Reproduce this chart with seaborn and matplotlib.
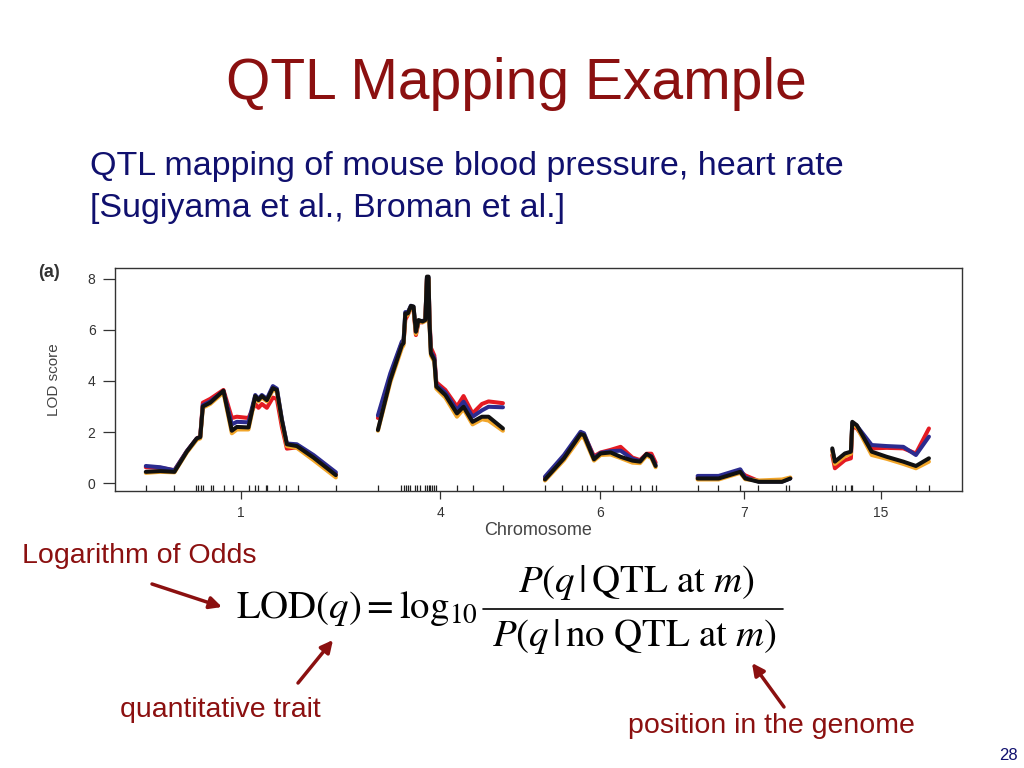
import matplotlib
matplotlib.use('Agg')
import matplotlib.pyplot as plt
from matplotlib.lines import Line2D
import seaborn as sns
import pandas as pd

# chromosomes shown, lengths (cM) and gap between them
chrom_names = ['1', '4', '6', '7', '15']
chrom_lengths = [95, 62.5, 55.3, 46.3, 48.3]
gap = 21

# LOD curves, one list per trait colour, per chromosome
chr1_pos = [0, 7.2, 14.3, 20.5, 25.5, 27.2, 28.5, 32.2, 38.8, 43, 45.5, 51.3, 54.7, 56.3, 58, 60.5, 63.5, 65.5, 68, 70.5, 75.5, 83.8, 95]
chr1_red = [0.62, 0.6, 0.5, 1.25, 1.75, 1.82, 3.15, 3.3, 3.65, 2.55, 2.6, 2.55, 3.1, 2.95, 3.1, 2.95, 3.35, 3.3, 2.2, 1.35, 1.4, 1.0, 0.35]
chr1_blue = [0.67, 0.62, 0.5, 1.25, 1.75, 1.8, 3.05, 3.2, 3.6, 2.3, 2.4, 2.38, 3.45, 3.3, 3.45, 3.3, 3.8, 3.7, 2.5, 1.55, 1.52, 1.1, 0.42]
chr1_orange = [0.4, 0.44, 0.42, 1.2, 1.7, 1.75, 2.95, 3.1, 3.55, 1.95, 2.1, 2.1, 3.35, 3.2, 3.35, 3.2, 3.65, 3.6, 2.4, 1.45, 1.38, 0.9, 0.22]
chr1_black = [0.44, 0.47, 0.44, 1.23, 1.75, 1.8, 3.0, 3.15, 3.62, 2.05, 2.2, 2.18, 3.41, 3.25, 3.41, 3.25, 3.72, 3.65, 2.47, 1.52, 1.45, 1.0, 0.31]

chr4_pos = [0, 6.2, 12, 12.8, 13.7, 15, 16.5, 17.8, 19, 20.3, 22.3, 23.7, 24.5, 25.3, 25.8, 26.5, 28.2, 29.2, 33.7, 39.5, 42.8, 47.3, 52, 55.3, 62.5]
chr4_red = [2.55, 4.2, 5.5, 5.5, 6.4, 6.6, 6.9, 6.8, 5.8, 6.3, 6.3, 6.4, 8.0, 8.0, 6.4, 5.3, 5.0, 3.95, 3.65, 3.0, 3.41, 2.73, 3.1, 3.2, 3.13]
chr4_blue = [2.65, 4.3, 5.55, 5.55, 6.7, 6.7, 6.95, 6.9, 5.9, 6.35, 6.35, 6.4, 8.05, 8.05, 6.3, 5.15, 4.9, 3.85, 3.55, 2.86, 3.19, 2.6, 2.85, 2.99, 2.97]
chr4_orange = [2.05, 3.95, 5.3, 5.4, 6.55, 6.6, 6.9, 6.85, 5.85, 6.35, 6.3, 6.35, 8.0, 8.0, 6.2, 5.0, 4.75, 3.7, 3.35, 2.6, 2.9, 2.3, 2.5, 2.45, 2.05]
chr4_black = [2.08, 4.04, 5.41, 5.48, 6.65, 6.65, 6.94, 6.92, 5.93, 6.39, 6.33, 6.39, 8.09, 8.09, 6.26, 5.08, 4.82, 3.78, 3.45, 2.73, 2.99, 2.4, 2.6, 2.6, 2.14]

chr6_pos = [0, 9.5, 17.8, 19.5, 24.5, 27.8, 32.8, 37.8, 43.7, 47.5, 50.8, 53.2, 55.3]
chr6_red = [0.2, 1.0, 1.85, 1.9, 1.05, 1.2, 1.3, 1.42, 1.0, 0.9, 1.15, 1.15, 0.8]
chr6_blue = [0.25, 1.1, 2.01, 1.95, 0.98, 1.18, 1.25, 1.27, 0.95, 0.86, 1.12, 1.05, 0.7]
chr6_orange = [0.1, 0.9, 1.8, 1.78, 0.88, 1.1, 1.12, 0.98, 0.8, 0.78, 1.08, 0.98, 0.62]
chr6_black = [0.14, 0.97, 1.92, 1.88, 0.93, 1.16, 1.2, 1.03, 0.88, 0.84, 1.14, 1.03, 0.67]

chr7_pos = [0, 10.5, 21.3, 23.8, 30.5, 42.2, 46.3]
chr7_red = [0.22, 0.22, 0.45, 0.3, 0.08, 0.08, 0.2]
chr7_blue = [0.28, 0.28, 0.54, 0.22, 0.06, 0.06, 0.18]
chr7_orange = [0.14, 0.14, 0.4, 0.15, 0.1, 0.14, 0.22]
chr7_black = [0.18, 0.18, 0.44, 0.18, 0.05, 0.05, 0.18]

chr15_pos = [0, 1.3, 6.3, 9.3, 10, 12.2, 19.7, 27.2, 35.5, 41.8, 48.3]
chr15_red = [1.1, 0.58, 0.9, 0.97, 2.21, 2.15, 1.36, 1.38, 1.36, 1.16, 2.14]
chr15_blue = [1.3, 0.8, 1.1, 1.2, 2.35, 2.25, 1.49, 1.45, 1.42, 1.1, 1.82]
chr15_orange = [1.25, 0.75, 1.05, 1.15, 2.3, 2.2, 1.1, 0.95, 0.75, 0.58, 0.84]
chr15_black = [1.36, 0.84, 1.16, 1.23, 2.4, 2.27, 1.23, 1.03, 0.84, 0.67, 0.97]

# genetic markers (cM)
chr1_markers = [0, 14.3, 25, 26.3, 27.7, 28.8, 32.7, 33.8, 39.3, 43.5, 51.8, 54.7, 56, 60.2, 60.8, 66.7, 70, 76.3, 95]
chr4_markers = [0, 11.7, 12.8, 14.2, 15, 15.8, 18.3, 19.5, 20.8, 23.7, 24.5, 25.3, 26.2, 27, 27.8, 29.2, 39.5, 47.3, 62.5]
chr6_markers = [0, 8.3, 18.7, 21.2, 24.8, 34, 42.8, 47.5, 53.3, 55.3]
chr7_markers = [0, 10.3, 21.2, 30.2, 44.2, 45.5]
chr15_markers = [0, 1.7, 6.3, 9.3, 10, 20.2, 41.8, 48.3]

traits = ['red', 'blue', 'orange', 'black']
palette = {'red': '#e41a22', 'blue': '#2b2b8f', 'orange': '#f2a62a', 'black': '#111111'}

curves = {
    '1': (chr1_pos, [chr1_red, chr1_blue, chr1_orange, chr1_black], chr1_markers),
    '4': (chr4_pos, [chr4_red, chr4_blue, chr4_orange, chr4_black], chr4_markers),
    '6': (chr6_pos, [chr6_red, chr6_blue, chr6_orange, chr6_black], chr6_markers),
    '7': (chr7_pos, [chr7_red, chr7_blue, chr7_orange, chr7_black], chr7_markers),
    '15': (chr15_pos, [chr15_red, chr15_blue, chr15_orange, chr15_black], chr15_markers),
}

rows = []
marker_x = []
centers = []
offset = 0
for name, length in zip(chrom_names, chrom_lengths):
    pos, lods, markers = curves[name]
    for trait, lod in zip(traits, lods):
        for p, v in zip(pos, lod):
            rows.append({'x': offset + p, 'lod': v, 'trait': trait, 'chrom': name})
    marker_x += [offset + m for m in markers]
    centers.append(offset + length / 2)
    offset += length + gap
df = pd.DataFrame(rows)
x_end = offset - gap

sns.set_style('white')
plt.rcParams['font.family'] = ['Liberation Sans', 'DejaVu Sans']
plt.rcParams['mathtext.fontset'] = 'stix'

fig = plt.figure(figsize=(10.24, 7.68), dpi=100)
ax = fig.add_axes([0.1123, 0.3607, 0.8271, 0.2904])

sns.lineplot(data=df, x='x', y='lod', hue='trait', hue_order=traits, units='chrom',
             estimator=None, sort=False, palette=palette, linewidth=2.9, legend=False, ax=ax)
ax.vlines(marker_x, -0.31, -0.08, color='#222222', linewidth=0.9)

ax.set_xlim(-15.4, x_end + 16.5)
ax.set_ylim(-0.31, 8.43)
ax.set_xticks(centers)
ax.set_xticklabels(chrom_names)
ax.set_yticks([0, 2, 4, 6, 8])
ax.tick_params(axis='both', direction='out', length=6, width=0.9, color='#333333',
               labelsize=10, labelcolor='#333333', left=True, bottom=True)
ax.tick_params(axis='y', length=9, pad=5)
ax.tick_params(axis='x', pad=5)
ax.set_xlabel('Chromosome', fontsize=13, color='#444444', labelpad=1)
ax.set_ylabel('LOD score', fontsize=11, color='#444444', labelpad=19)
for s in ax.spines.values():
    s.set_color('#333333')
    s.set_linewidth(1.0)
fig.text(38 / 1024, 1 - 272 / 768, '(a)', fontsize=13, fontweight='bold', color='#333333', va='center')


def fx(x):
    return x / 1024


def fy(y):
    return 1 - y / 768


dark_red = '#8b1010'
navy = '#10106e'
fig.text(fx(516), fy(84), 'QTL Mapping Example', fontsize=41, color=dark_red, ha='center', va='center')
fig.text(fx(90), fy(166), 'QTL mapping of mouse blood pressure, heart rate', fontsize=24.5, color=navy, va='center')
fig.text(fx(90), fy(209), '[Sugiyama et al., Broman et al.]', fontsize=24.5, color=navy, va='center')
fig.text(fx(22), fy(556), 'Logarithm of Odds', fontsize=20.5, color=dark_red, va='center')
fig.text(fx(120), fy(710), 'quantitative trait', fontsize=20.5, color=dark_red, va='center')
fig.text(fx(628), fy(726), 'position in the genome', fontsize=20.5, color=dark_red, va='center')
fig.text(fx(1018), fy(755), '28', fontsize=12, color=navy, ha='right', va='center')

fig.text(fx(236), fy(609), r'$\mathrm{LOD}(q) = \log_{10}$', fontsize=28, color='black', va='center')
fig.text(fx(636), fy(582), r'$P(q\,|\,\mathrm{QTL\ at}\ m)$', fontsize=28, color='black', ha='center', va='center')
fig.text(fx(635), fy(637), r'$P(q\,|\,\mathrm{no\ QTL\ at}\ m)$', fontsize=28, color='black', ha='center', va='center')
fig.add_artist(Line2D([fx(483), fx(783)], [fy(609), fy(609)], color='black', linewidth=1.2))

for tail, head in [((152, 584), (222, 607)), ((298, 683), (333, 640)), ((784, 707), (752, 663))]:
    ax.annotate('', xy=(fx(head[0]), fy(head[1])), xytext=(fx(tail[0]), fy(tail[1])),
                xycoords='figure fraction', textcoords='figure fraction', annotation_clip=False,
                arrowprops=dict(arrowstyle='-|>', color=dark_red, lw=2.5, mutation_scale=18,
                                shrinkA=0, shrinkB=0))

fig.savefig('out.png', dpi=100)
